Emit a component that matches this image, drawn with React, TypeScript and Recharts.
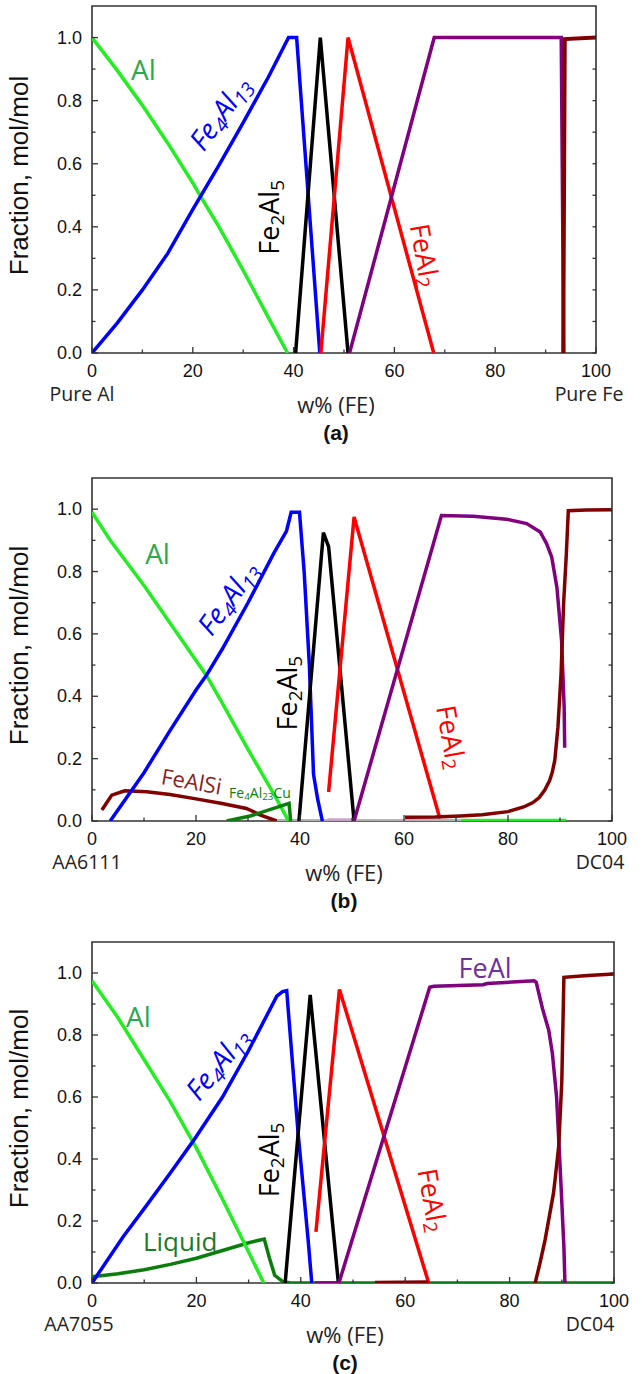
import React from "react";
import { LineChart, Line, XAxis, YAxis, ReferenceDot, ReferenceArea } from "recharts";

type Pt = [number, number];

// ---- (a) binary Al–Fe, pure Al -> pure Fe
const aAl: Pt[] = [[0, 1], [5, 0.896], [10, 0.785], [15, 0.666], [20, 0.539], [21.5, 0.497], [25, 0.405], [30, 0.262], [35, 0.112], [38.8, 0]];
const aFe4Al13: Pt[] = [[0, 0], [5, 0.095], [10, 0.2], [15, 0.315], [20, 0.455], [25, 0.59], [30, 0.73], [35, 0.875], [39, 1], [40.6, 1], [45.2, 0]];
const aFe2Al5: Pt[] = [[40.4, 0], [45.3, 1], [50.8, 0]];
const aFeAl2: Pt[] = [[45.4, 0], [50.8, 1], [67.8, 0]];
const aFeAl: Pt[] = [[51.1, 0], [67.9, 1], [93.1, 1], [93.6, 0]];
const aFe: Pt[] = [[93.5, 0], [93.8, 0.995], [100, 1]];

// ---- (b) AA6111 -> DC04
const bAl: Pt[] = [[0, 0.99], [3.5, 0.9], [10, 0.755], [15, 0.635], [20, 0.515], [22, 0.467], [25, 0.38], [30, 0.23], [35, 0.085], [37.8, 0]];
const bAlTail: Pt[] = [[71, 0.002], [91.2, 0.002]];
const bGray: Pt[] = [[35.6, 0.001], [71, 0.001]];
const bFeAlSi: Pt[] = [[1.9, 0.035], [3.8, 0.083], [6.3, 0.097], [10.5, 0.094], [15, 0.085], [20, 0.071], [25, 0.056], [29.7, 0.04], [32.3, 0.02], [35.5, 0]];
const bFe4Al23Cu: Pt[] = [[25.9, 0], [30.4, 0.016], [37.9, 0.057], [38.2, 0]];
const bFe4Al13: Pt[] = [[3.5, 0], [10, 0.155], [15, 0.29], [20, 0.42], [22, 0.467], [25, 0.55], [30, 0.7], [35, 0.86], [37.4, 0.93], [38.3, 0.99], [39.9, 0.99], [40.8, 0.8], [41.8, 0.5], [42.6, 0.15], [43.4, 0.07], [44.3, 0]];
const bFe2Al5: Pt[] = [[39.8, 0], [44.5, 0.925], [45.5, 0.88], [50.4, 0]];
const bFeAl2: Pt[] = [[45.5, 0.093], [50.4, 0.975], [66.9, 0.008]];
const bFeAlLow: Pt[] = [[45.3, 0.003], [50.4, 0.003]];
const bFeAl: Pt[] = [[50.4, 0], [67.2, 0.98], [73.3, 0.977], [79.7, 0.968], [83.6, 0.954], [86.2, 0.927], [87.4, 0.89], [88.4, 0.847], [89.4, 0.75], [90.3, 0.58], [90.8, 0.365], [90.9, 0.235]];
const bFe: Pt[] = [[60.2, 0.012], [66, 0.013], [70.8, 0.016], [75, 0.02], [80, 0.03], [83, 0.045], [84.8, 0.059], [86, 0.075], [87.1, 0.1], [88, 0.13], [88.5, 0.155], [89, 0.195], [89.6, 0.3], [90.2, 0.47], [90.7, 0.7], [91.2, 0.85], [91.6, 0.995], [95, 0.997], [100, 0.998]];

// ---- (c) AA7055 -> DC04
const cLiquid: Pt[] = [[0, 0.02], [5, 0.03], [10, 0.043], [15, 0.06], [20, 0.08], [25, 0.105], [30, 0.13], [33, 0.142], [34, 0.08], [35, 0.025], [36.5, 0.005], [38, 0], [100, 0]];
const cAl: Pt[] = [[0, 0.975], [5, 0.855], [10, 0.72], [15, 0.585], [20, 0.435], [25, 0.27], [30, 0.1], [32.9, 0]];
const cFe4Al13: Pt[] = [[0, 0], [6, 0.15], [10, 0.24], [15, 0.355], [19.3, 0.456], [25, 0.6], [30, 0.75], [35.4, 0.925], [36.5, 0.94], [37.3, 0.943], [39.5, 0.48], [41.4, 0.14], [42.1, 0]];
const cFe2Al5: Pt[] = [[37, 0], [41.8, 0.929], [47.2, 0]];
const cFeAl2: Pt[] = [[42.9, 0.165], [47.4, 0.947], [64.5, 0]];
const cFeAl: Pt[] = [[42.7, 0], [47.3, 0], [64.7, 0.954], [65.5, 0.957], [74.9, 0.962], [75.7, 0.966], [84.7, 0.975], [85.1, 0.97], [86.3, 0.885], [87.5, 0.815], [88.2, 0.74], [89, 0.6], [89.8, 0.332], [90.4, 0.118], [90.6, 0]];
const cFeLow: Pt[] = [[54.2, 0.002], [64.4, 0.003]];
const cFe: Pt[] = [[84.9, 0], [85.8, 0.063], [86.8, 0.139], [87.6, 0.214], [88.4, 0.289], [88.7, 0.332], [89.4, 0.44], [90, 0.65], [90.4, 0.986], [95, 0.992], [100, 0.997]];

const xTicks = [0, 10, 20, 30, 40, 50, 60, 70, 80, 90, 100];
const yTicks = [0, 0.1, 0.2, 0.3, 0.4, 0.5, 0.6, 0.7, 0.8, 0.9, 1.0];

const GREEN = "#22ee22";
const DKGREEN = "#0b7d0b";
const BLUE = "#0000ff";
const RED = "#ff0000";
const PURPLE = "#800080";
const BROWN = "#800000";
const FRAME = "#333";
const NUM_FONT = "'Liberation Sans', Arial, sans-serif";
const TXT_FONT = "'Open Sans', 'Noto Sans', sans-serif";

type Series = { pts: Pt[]; color: string; w?: number };
type Tag = { x: number; y: number; text: string; color: string; angle?: number; size?: number; italic?: boolean };
type Panel = {
  left: number; right: number; top: number; bottom: number;
  series: Series[]; tags: Tag[];
  leftName: string; leftCx: number; rightName: string; rightCx: number; letter: string;
};

const panels: Panel[] = [
  {
    left: 92, right: 596, top: 6, bottom: 353,
    series: [
      { pts: aAl, color: GREEN }, { pts: aFe4Al13, color: BLUE }, { pts: aFe2Al5, color: "#000" },
      { pts: aFeAl2, color: RED }, { pts: aFeAl, color: PURPLE }, { pts: aFe, color: BROWN, w: 4 },
    ],
    tags: [
      { x: 10.2, y: 0.9, text: "Al", color: "#2ea84f", size: 28 },
      { x: 25.2, y: 0.762, text: "Fe_4Al_13", color: BLUE, angle: -54, italic: true, size: 28 },
      { x: 35, y: 0.43, text: "Fe_2Al_5", color: "#000", angle: -90, size: 27 },
      { x: 66.3, y: 0.31, text: "FeAl_2", color: RED, angle: 80, size: 27 },
    ],
    leftName: "Pure Al", leftCx: 82, rightName: "Pure Fe", rightCx: 589, letter: "(a)",
  },
  {
    left: 92, right: 612, top: 478, bottom: 821,
    series: [
      { pts: bGray, color: "#b4b4b4" }, { pts: bAlTail, color: GREEN }, { pts: bFeAlLow, color: "#c9a0c9" },
      { pts: bAl, color: GREEN }, { pts: bFeAlSi, color: BROWN }, { pts: bFe4Al23Cu, color: DKGREEN },
      { pts: bFe4Al13, color: BLUE }, { pts: bFe2Al5, color: "#000" }, { pts: bFeAl2, color: RED },
      { pts: bFeAl, color: PURPLE }, { pts: bFe, color: BROWN },
    ],
    tags: [
      { x: 12.6, y: 0.86, text: "Al", color: "#2ea84f", size: 28 },
      { x: 26, y: 0.717, text: "Fe_4Al_13", color: BLUE, angle: -54, italic: true, size: 28 },
      { x: 37.4, y: 0.41, text: "Fe_2Al_5", color: "#000", angle: -90, size: 27 },
      { x: 69.3, y: 0.27, text: "FeAl_2", color: RED, angle: 80, size: 27 },
      { x: 19.2, y: 0.13, text: "FeAlSi", color: "#8b1e1e", angle: 10, size: 22 },
      { x: 32.3, y: 0.094, text: "Fe_4Al_23Cu", color: DKGREEN, size: 14 },
    ],
    leftName: "AA6111", leftCx: 87, rightName: "DC04", rightCx: 600, letter: "(b)",
  },
  {
    left: 92, right: 614, top: 942, bottom: 1283,
    series: [
      { pts: cLiquid, color: DKGREEN }, { pts: cAl, color: GREEN }, { pts: cFe4Al13, color: BLUE },
      { pts: cFe2Al5, color: "#000" }, { pts: cFeAl2, color: RED }, { pts: cFeAl, color: PURPLE },
      { pts: cFeLow, color: BROWN }, { pts: cFe, color: BROWN },
    ],
    tags: [
      { x: 8.9, y: 0.86, text: "Al", color: "#2ea84f", size: 28 },
      { x: 23.9, y: 0.709, text: "Fe_4Al_13", color: BLUE, angle: -51, italic: true, size: 28 },
      { x: 33.8, y: 0.397, text: "Fe_2Al_5", color: "#000", angle: -90, size: 27 },
      { x: 65.5, y: 0.268, text: "FeAl_2", color: RED, angle: 80, size: 27 },
      { x: 75.3, y: 1.018, text: "FeAl", color: "#7030a0", size: 27 },
      { x: 16.9, y: 0.134, text: "Liquid", color: "#1e7b1e", size: 26 },
    ],
    leftName: "AA7055", leftCx: 79, rightName: "DC04", rightCx: 590, letter: "(c)",
  },
];

// text with "_digits" turned into subscripts
function Formula({ cx, cy, tag }: { cx: number; cy: number; tag: Tag }) {
  const size = tag.size ?? 26;
  const shift = size * 0.3;
  const parts = tag.text.split(/(_\d+)/).filter(Boolean);
  let low = false;
  return (
    <text
      transform={`translate(${cx},${cy}) rotate(${tag.angle ?? 0})`}
      textAnchor="middle"
      dominantBaseline="central"
      fill={tag.color}
      fontFamily={TXT_FONT}
      fontSize={size}
      fontStyle={tag.italic ? "italic" : "normal"}
    >
      {parts.map((p, i) => {
        if (p.startsWith("_")) {
          const dy = low ? 0 : shift;
          low = true;
          return <tspan key={i} fontSize={size * 0.7} dy={dy}>{p.slice(1)}</tspan>;
        }
        const dy = low ? -shift : 0;
        low = false;
        return <tspan key={i} dy={dy}>{p}</tspan>;
      })}
    </text>
  );
}

const TagLabel = (props: any) => {
  const vb = props.viewBox || { x: 0, y: 0, width: 0, height: 0 };
  return <Formula cx={vb.x + (vb.width || 0) / 2} cy={vb.y + (vb.height || 0) / 2} tag={props.tag} />;
};

const XTick = (props: any) => {
  const { x, y, payload } = props;
  const major = payload.value % 20 === 0;
  return (
    <g>
      <line x1={x} x2={x} y1={y} y2={y - (major ? 6 : 3.5)} stroke={FRAME} strokeWidth={1.3} />
      {major && (
        <text x={x} y={y + 18} textAnchor="middle" dominantBaseline="central" fontFamily={NUM_FONT} fontSize={18} fill="#111">
          {payload.value}
        </text>
      )}
    </g>
  );
};

const makeYTick = (plotW: number) => (props: any) => {
  const { x, y, payload } = props;
  const major = Math.round(payload.value * 10) % 2 === 0;
  return (
    <g>
      <line x1={x} x2={x + (major ? 6 : 3.5)} y1={y} y2={y} stroke={FRAME} strokeWidth={1.3} />
      <line x1={x + plotW} x2={x + plotW - 3.5} y1={y} y2={y} stroke={FRAME} strokeWidth={1.3} />
      {major && (
        <text x={x - 10} y={y} textAnchor="end" dominantBaseline="central" fontFamily={NUM_FONT} fontSize={18} fill="#111">
          {payload.value.toFixed(1)}
        </text>
      )}
    </g>
  );
};

const PAD_TOP = 10;
const AXIS_H = 100;

function PhasePanel({ p }: { p: Panel }) {
  const plotH = p.bottom - p.top;
  const plotW = p.right - p.left;
  const YTick = makeYTick(plotW);
  return (
    <div style={{ position: "absolute", left: 0, top: p.top - PAD_TOP }}>
      <LineChart
        width={642}
        height={plotH + PAD_TOP + AXIS_H}
        margin={{ top: PAD_TOP, right: 642 - p.right, left: 0, bottom: 0 }}
      >
        <XAxis
          type="number"
          dataKey="x"
          domain={[0, 100]}
          ticks={xTicks}
          interval={0}
          height={AXIS_H}
          tickSize={0}
          tickMargin={0}
          tickLine={false}
          axisLine={false}
          tick={<XTick />}
          allowDataOverflow
        />
        <YAxis
          type="number"
          domain={[0, 1.1]}
          ticks={yTicks}
          interval={0}
          width={p.left}
          tickSize={0}
          tickMargin={0}
          tickLine={false}
          axisLine={false}
          tick={<YTick />}
          allowDataOverflow
        />
        <ReferenceArea x1={0} x2={100} y1={0} y2={1.1} fill="none" stroke={FRAME} strokeWidth={1.6} ifOverflow="visible" />
        {p.series.map((s, i) => (
          <Line
            key={i}
            data={s.pts.map(([x, y]) => ({ x, y }))}
            dataKey="y"
            type="linear"
            stroke={s.color}
            strokeWidth={s.w ?? 3.5}
            dot={false}
            activeDot={false}
            isAnimationActive={false}
          />
        ))}
        {p.tags.map((t, i) => (
          <ReferenceDot key={`t${i}`} x={t.x} y={t.y} r={0} fill="none" stroke="none" ifOverflow="visible" label={<TagLabel tag={t} />} />
        ))}
      </LineChart>
    </div>
  );
}

function Captions({ p }: { p: Panel }) {
  const midX = (p.left + p.right) / 2 - 8;
  const midY = (p.top + p.bottom) / 2 - 4;
  return (
    <g>
      <text transform={`translate(28,${midY}) rotate(-90)`} textAnchor="middle" fontFamily={NUM_FONT} fontSize={26} fill="#111">
        Fraction, mol/mol
      </text>
      <text x={p.leftCx} y={p.bottom + 40} textAnchor="middle" dominantBaseline="central" fontFamily={TXT_FONT} fontSize={19.5} fill="#222">
        {p.leftName}
      </text>
      <text x={p.rightCx} y={p.bottom + 40} textAnchor="middle" dominantBaseline="central" fontFamily={TXT_FONT} fontSize={19.5} fill="#222">
        {p.rightName}
      </text>
      <text x={midX} y={p.bottom + 51} textAnchor="middle" dominantBaseline="central" fontFamily={TXT_FONT} fontSize={22} fill="#222">
        w% (FE)
      </text>
      <text x={midX} y={p.bottom + 79} textAnchor="middle" dominantBaseline="central" fontFamily={NUM_FONT} fontWeight="bold" fontSize={21} fill="#111">
        {p.letter}
      </text>
    </g>
  );
}

export default function App() {
  return (
    <div style={{ position: "absolute", left: 0, top: 0, width: 642, height: 1374, background: "#fff" }}>
      {panels.map((p, i) => (
        <PhasePanel key={i} p={p} />
      ))}
      <svg width={642} height={1374} style={{ position: "absolute", left: 0, top: 0, pointerEvents: "none" }}>
        {panels.map((p, i) => (
          <Captions key={i} p={p} />
        ))}
      </svg>
    </div>
  );
}
